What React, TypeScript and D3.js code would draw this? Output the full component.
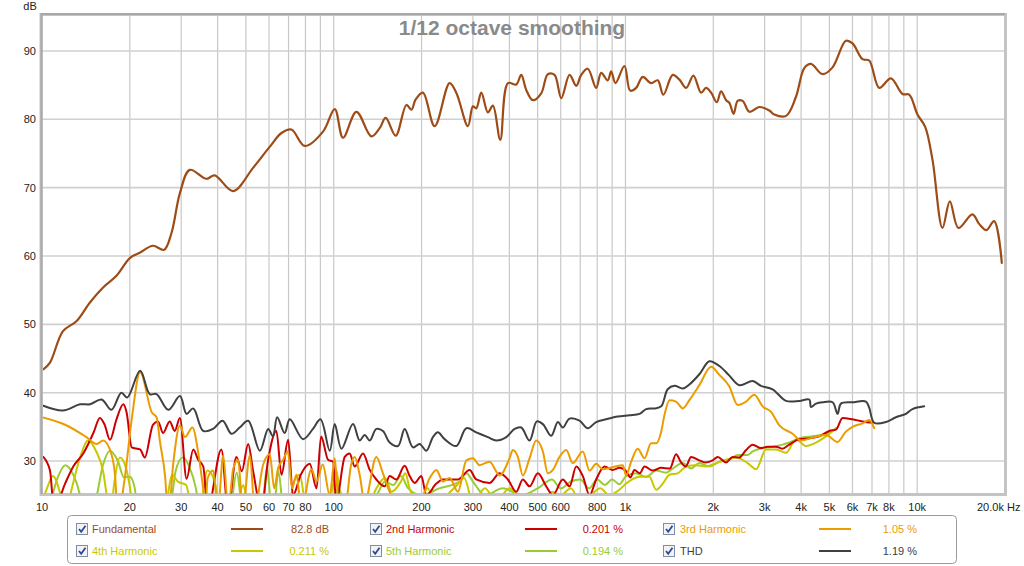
import * as d3 from "d3";

// [Hz, dB]
const fundamental: [number, number][] = [
  [10.1, 43.4], [10.65, 44.4], [11.8, 49.0], [13.15, 50.5], [14.6, 53.2], [16.2, 55.4], [18.0, 57.1],
  [20.0, 59.7], [21.7, 60.5], [24.0, 61.5], [26.2, 60.9], [27.8, 63.4], [29.7, 69.2], [32.1, 72.6],
  [36.6, 71.3], [39.1, 71.8], [45.2, 69.5], [52.9, 72.9], [60.4, 76.0], [66.2, 78.0], [71.6, 78.5],
  [79.6, 76.1], [91.9, 78.2], [100.8, 81.5], [107.6, 77.3], [119.6, 81.1], [134.6, 77.5], [143.7, 78.7],
  [150.7, 80.2], [163.1, 77.6], [177.4, 82.1], [184.6, 81.4], [190.9, 82.9], [202.2, 83.9], [221.8, 79.0],
  [249.6, 85.3], [263.1, 83.9], [288.4, 79.0], [300, 81.9], [308, 81.6], [320.5, 83.9], [337.6, 81.0],
  [351.3, 82.0], [372.3, 77.0], [395.4, 85.3], [422.3, 85.1], [439.3, 86.5], [457, 84.3], [481.4, 82.8],
  [514.3, 83.8], [541.8, 86.6], [571.3, 86.5], [602.4, 83.1], [643.2, 86.5], [678.1, 84.9], [705.2, 86.5],
  [742.9, 87.4], [793.6, 84.6], [825.6, 86.8], [869.6, 85.7], [893.3, 87.0], [924.3, 85.3], [992, 87.8],
  [1038, 84.2], [1088, 84.6], [1146, 86.2], [1224, 85.3], [1290, 85.7], [1349, 83.6], [1452, 86.5],
  [1531, 85.8], [1614, 84.6], [1710, 86.4], [1816, 83.9], [1889, 84.6], [1966, 83.9], [2055, 82.5],
  [2127, 84.1], [2213, 82.8], [2271, 82.4], [2349, 80.8], [2424, 82.7], [2522, 82.7], [2659, 81.1],
  [2876, 81.8], [3113, 81.3], [3238, 80.7], [3551, 80.5], [3842, 83.3], [4102, 87.5], [4325, 88.1],
  [4739, 86.6], [5128, 87.6], [5697, 91.5], [6003, 91.1], [6497, 88.8], [6848, 88.6], [7413, 84.6],
  [8128, 86.0], [8906, 83.7], [9389, 83.6], [10023, 80.7], [10652, 78.9], [11283, 74.1], [12209, 64.1],
  [12942, 68.0], [13849, 64.1], [15464, 66.1], [16305, 64.7], [17273, 63.8], [18350, 65.1], [19500, 59.0],
];

const harmonic2: [number, number][] = [
  [10.1, 30.6], [10.65, 28.6], [11.0, 23], [12.0, 26.7], [12.8, 29.2], [13.85, 31.1], [15.0, 34.1],
  [15.8, 36.3], [16.4, 35.3], [17.1, 33.1], [18.0, 36.1], [19.0, 38.3], [19.5, 37.1], [20.3, 32.0],
  [21.7, 31.7], [22.5, 30.5], [24.0, 35.3], [25.0, 35.8], [26.0, 34.1], [27.4, 35.8], [28.5, 34.4],
  [29.7, 36.3], [31.3, 27.4], [33.0, 31.7], [34.3, 30.2], [35.7, 29.2], [37.0, 23], [41.2, 31.7],
  [43.4, 23], [46.4, 30.6], [48.4, 28.5], [50.9, 32.5], [52.9, 28.6], [56.5, 23], [59.6, 30.2],
  [63.6, 34.4], [66.2, 28], [69.8, 33.1], [72.5, 25], [77.1, 28], [82.8, 29.6], [87.3, 26], [90.5, 33.6],
  [95.6, 30.2], [99.5, 29.9], [101.9, 24], [109.1, 30.6], [113.4, 31.1], [118, 29.2], [126, 31.1],
  [132.9, 28.7], [140, 27.3], [149.5, 26.3], [155.5, 27.8], [163.9, 27.3], [175.1, 29.3], [182.1, 27.8],
  [189.4, 26.8], [199.7, 27.8], [207.7, 25], [224.8, 26.7], [236.8, 27.3], [249.6, 27.3], [266.5, 27.3],
  [292.3, 28.7], [308, 27.3], [342.1, 26.8], [370.3, 28.2], [395.4, 27.3], [422.3, 25.5], [444.9, 27.3],
  [469, 26.3], [500.9, 28.2], [535.1, 26.3], [563.7, 25], [610.1, 27.3], [643.2, 26.3], [678.1, 29.2],
  [714.3, 27.8], [752.9, 25], [793.6, 27.3], [847.5, 29.2], [904.5, 28.7], [953.9, 29], [1005, 28.5],
  [1040, 27.6], [1073, 28.7], [1120, 28.2], [1162, 29.2], [1240, 28.6], [1326, 29.0], [1420, 28.9],
  [1491, 31.0], [1551, 29.8], [1610, 29.2], [1679, 30.6], [1792, 30.1], [1880, 29.8], [1991, 30.1],
  [2071, 30.6], [2213, 29.8], [2331, 30.6], [2450, 30.5], [2591, 31.6], [2729, 32.4], [2915, 31.9],
  [3071, 32.1], [3281, 32.1], [3450, 31.8], [3644, 32.4], [3944, 33.2], [4210, 33.3], [4617, 33.6],
  [4995, 34.4], [5268, 34.6], [5550, 36.3], [6003, 36.1], [6497, 35.8], [7030, 35.6],
];

const harmonic3: [number, number][] = [
  [10.0, 36.4], [12.15, 35.2], [14.2, 33.5], [15.4, 32.5], [16.2, 33.0], [17.3, 31.0], [17.8, 27.9],
  [18.2, 22], [19.2, 27.4], [20.3, 36.1], [21.7, 43.0], [23.8, 37.1], [24.7, 36.4], [25.4, 32.7],
  [26.4, 27.9], [27.1, 22], [28.2, 29.8], [29.7, 35.2], [30.9, 33.5], [32.8, 34.9], [34.3, 31.3],
  [35.7, 25.9], [36.4, 23], [36.9, 27.4], [38.6, 28.6], [40.1, 23], [41.8, 30.8], [43.5, 23], [45.2, 28.8],
  [47.0, 30.2], [48.8, 23], [51.6, 30.8], [53.6, 23], [57.3, 29.5], [60.4, 31], [62.5, 26], [64.5, 29],
  [67.1, 30.2], [69.6, 31.4], [72, 26], [74.5, 28], [77.5, 23], [83.9, 28.8], [87.3, 27], [91.7, 29.5],
  [96.9, 25], [100.8, 30.4], [103.4, 25], [109.1, 23], [114.9, 29.6], [118, 30.6], [122.7, 28], [127.7, 24],
  [140, 30.6], [147.5, 28.2], [155.5, 25.5], [163.9, 24], [182.1, 25], [197, 24], [213.3, 27.5],
  [224.8, 28.7], [236.8, 27], [249.6, 27.5], [266.5, 25.5], [284.8, 30.1], [300, 30.4], [316.2, 29.4],
  [342.1, 29.9], [370.3, 27.9], [400.6, 30.4], [411.2, 31.6], [427.7, 30.6], [444.9, 27.9], [469, 30.4],
  [494.5, 33.0], [521.1, 31.4], [541.8, 28.2], [563.7, 28.7], [594.3, 30.6], [626.5, 31.6], [660, 29.7],
  [714.3, 31.4], [752.9, 28.6], [793.6, 29.6], [834.2, 28.8], [904.5, 29.1], [979, 29.4], [1005, 27.9],
  [1046, 29.9], [1102, 31.8], [1162, 30.4], [1224, 32.6], [1274, 32.6], [1326, 34.3], [1360, 36.7],
  [1415, 38.9], [1491, 38.7], [1572, 37.7], [1656, 38.9], [1792, 41.1], [1966, 43.8], [2099, 42.6],
  [2271, 40.9], [2424, 38.2], [2591, 38.7], [2765, 39.7], [2953, 38.0], [3155, 37.2], [3369, 35.2],
  [3741, 34.0], [3998, 33.0], [4440, 33.5], [4868, 33.8], [5335, 32.8], [5697, 34.3], [6003, 35.0],
  [6497, 35.5], [6848, 36.0], [7124, 34.8],
];

const harmonic4: [number, number][] = [
  [10.0, 24], [10.4, 26], [10.9, 27.8], [11.5, 25.5], [12.0, 22], [12.66, 26], [13.5, 30.5], [14.4, 33.0],
  [15.3, 31.5], [16.2, 28.5], [16.8, 24], [17.2, 22], [17.6, 26], [18.5, 30.5], [19.4, 29], [20.2, 25],
  [20.6, 22], [26.4, 23], [27.9, 28], [29.2, 27], [31.2, 26.5], [32.6, 23], [34.7, 23], [36.9, 28.6],
  [39.1, 27], [40.7, 23], [46, 23], [49, 26.5], [51, 23], [70, 23], [73, 27], [76.5, 28], [80, 24],
  [95, 23], [99, 26], [102, 28.7], [106, 24], [115, 22], [130, 23], [140, 26], [150, 27.5], [158, 25.5],
  [170, 27], [176, 28.2], [182, 26], [195, 24], [210, 26], [225, 23], [245, 25], [265, 26.5], [280, 27.5],
  [300, 24], [330, 26], [360, 24], [400, 26], [440, 24.5], [480, 25], [520, 24], [560, 25.5], [600, 25],
  [650, 26], [700, 24], [760, 25], [820, 26], [880, 25], [953, 25.8], [1005, 26.7], [1117, 27.7],
  [1208, 27.7], [1274, 25.8], [1342, 26.7], [1415, 28.0], [1511, 28.2], [1614, 29.2], [1747, 29.4],
  [1889, 29.2], [2045, 29.7], [2213, 30.2], [2394, 30.5], [2623, 29.7], [2803, 28.8], [3033, 31.7],
  [3281, 31.7], [3551, 31.2], [3842, 33.2], [4156, 32.2], [4499, 32.7], [4868, 33.6], [5268, 34.8],
];

const harmonic5: [number, number][] = [
  [10.0, 22], [10.5, 23], [11.3, 27.5], [12.0, 29.4], [12.8, 28], [13.5, 25], [13.9, 22], [15.2, 24],
  [16.2, 29.5], [17.1, 31.5], [18.2, 30], [19.1, 27.6], [20.0, 27.7], [20.8, 26], [21.3, 22], [27.4, 23],
  [28.7, 28.5], [30.4, 30.5], [32.1, 29], [33.7, 26], [34.7, 23], [44, 23], [46.5, 28.3], [48.8, 23],
  [56.8, 23], [59, 29], [61.4, 23], [62.8, 24], [64.6, 28.5], [67.3, 23], [95, 22], [99, 24], [104, 26],
  [110, 23], [140, 25], [150, 27], [160, 26.5], [170, 27.8], [180, 26], [200, 25], [230, 26], [270, 27],
  [285, 28.2], [300, 27], [330, 25], [380, 26], [440, 25], [500, 26], [560, 27.3], [600, 26], [650, 27],
  [700, 27.3], [750, 26], [800, 27.3], [850, 26.5], [900, 27.3], [953.9, 26.6], [1005, 27.8], [1088, 28.2],
  [1177, 27.7], [1274, 28.6], [1379, 28.3], [1452, 28.9], [1572, 29.7], [1679, 28.9], [1792, 29.7],
  [1940, 29.2], [2099, 29.9], [2271, 30.2], [2424, 30.9], [2623, 30.9], [2729, 31.4], [2953, 31.9],
  [3194, 32.1], [3457, 32.4], [3741, 32.9], [3998, 33.4], [4325, 33.6], [4680, 33.8], [5064, 34.3],
  [5268, 34.8],
];

const thd: [number, number][] = [
  [10.1, 38.1], [11.8, 37.4], [13.5, 38.3], [14.6, 38.3], [16.0, 39.0], [17.3, 37.5], [18.7, 40.0],
  [19.6, 39.3], [21.7, 43.2], [23.4, 39.8], [24.7, 39.8], [27.1, 37.5], [29.7, 39.5], [31.3, 36.9],
  [33.0, 37.7], [35.7, 34.4], [38.6, 34.7], [41.6, 35.9], [44.6, 34.0], [47.6, 34.9], [50.9, 35.9],
  [55.8, 31.5], [59.6, 34.7], [61.9, 33.6], [64.0, 36.4], [67.9, 34.1], [70.7, 36.1], [78.5, 33.2],
  [84.9, 34.7], [90.1, 36.1], [96.9, 31.5], [100.8, 35.4], [106.3, 31.8], [116.4, 35.4], [122.7, 33.0],
  [127.7, 33.8], [132.9, 33.0], [140, 34.7], [147.5, 34.4], [155.5, 32.7], [166.1, 32.2], [175.1, 34.7],
  [186.9, 32.0], [197, 32.5], [207.7, 31.5], [218.8, 33.5], [227.6, 34.2], [240, 33.2], [263.1, 32.2],
  [284.8, 34.8], [308, 34.2], [337.6, 33.5], [360.7, 33.0], [390.4, 33.5], [416.8, 34.7], [439.3, 34.9],
  [469, 33.0], [496.8, 35.8], [521.1, 35.4], [556.6, 33.7], [586.6, 35.7], [610.1, 34.9], [643.2, 36.2],
  [695.9, 35.9], [742.9, 34.8], [793.6, 35.7], [858.6, 36.1], [941, 36.5], [1032, 36.7], [1117, 36.9],
  [1177, 37.6], [1257, 37.7], [1326, 38.0], [1396, 40.5], [1472, 41.0], [1572, 40.6], [1656, 41.2],
  [1792, 42.7], [1940, 44.6], [2099, 43.9], [2271, 42.5], [2457, 41.1], [2729, 41.7], [2915, 41.0],
  [3194, 40.5], [3551, 38.8], [3944, 38.8], [4267, 39.0], [4325, 37.9], [4500, 38.4], [4739, 38.6],
  [5128, 38.6], [5335, 36.9], [5479, 38.4], [6003, 38.6], [6673, 38.7], [6848, 37.8], [7124, 35.6],
  [7813, 35.7], [8456, 36.4], [9148, 36.9], [9637, 37.6], [10568, 38.0],
];

const xTickLabels: [number, string][] = [
  [10, "10"], [20, "20"], [30, "30"], [40, "40"], [50, "50"], [60, "60"], [70, "70"], [80, "80"],
  [100, "100"], [200, "200"], [300, "300"], [400, "400"], [500, "500"], [600, "600"], [800, "800"],
  [1000, "1k"], [2000, "2k"], [3000, "3k"], [4000, "4k"], [5000, "5k"], [6000, "6k"], [7000, "7k"],
  [8000, "8k"], [10000, "10k"],
];
const yTicks = [30, 40, 50, 60, 70, 80, 90];

const series = [
  { name: "Fundamental", data: fundamental, color: "#9e4c17", value: "82.8 dB", width: 2.2 },
  { name: "2nd Harmonic", data: harmonic2, color: "#cc0000", value: "0.201 %", width: 2 },
  { name: "3rd Harmonic", data: harmonic3, color: "#eb9c00", value: "1.05 %", width: 2 },
  { name: "4th Harmonic", data: harmonic4, color: "#c8c800", value: "0.211 %", width: 2 },
  { name: "5th Harmonic", data: harmonic5, color: "#99cc33", value: "0.194 %", width: 2 },
  { name: "THD", data: thd, color: "#404040", value: "1.19 %", width: 2 },
];
// draw order: distortion behind THD, fundamental on top
const drawOrder = ["5th Harmonic", "4th Harmonic", "2nd Harmonic", "3rd Harmonic", "THD", "Fundamental"];

const W = 1024;
const H = 566;
const plot = { left: 42, right: 1005, top: 16.8, bottom: 495.2 };
const FONT = "'Liberation Sans', Arial, sans-serif";

export default function App() {
  const x = d3.scaleLog().domain([10, 20000]).range([plot.left, plot.right]);
  const y = d3.scaleLinear().domain([25, 95]).range([plot.bottom, plot.top]);

  const gridFreqs: number[] = [];
  [10, 100, 1000, 10000].forEach(dec => {
    for (let m = 1; m <= 9; m++) if (m * dec <= 20000) gridFreqs.push(m * dec);
  });

  const lineSmooth = d3.line<[number, number]>()
    .x(d => x(d[0]))
    .y(d => y(d[1]))
    .curve(d3.curveCatmullRom.alpha(0.5));
  const lineLobes = d3.line<[number, number]>()
    .x(d => x(d[0]))
    .y(d => y(d[1]))
    .curve(d3.curveMonotoneX);

  // legend layout
  const legendCols = [
    { cb: 76, label: 92, l1: 231, l2: 263, val: 329 },
    { cb: 370, label: 386, l1: 525, l2: 557, val: 623 },
    { cb: 663, label: 680, l1: 819, l2: 851, val: 917 },
  ];
  const legendRows = [529, 551];

  return (
    <svg width={W} height={H} style={{ position: "absolute", left: 0, top: 0, background: "#fff" }}
      fontFamily={FONT}>
      <defs>
        <clipPath id="plotClip">
          <rect x={plot.left + 1} y={15.5} width={plot.right - plot.left - 2} height={478} />
        </clipPath>
      </defs>

      {/* grid */}
      {gridFreqs.map(f => (
        <line key={"gx" + f} x1={x(f)} x2={x(f)} y1={15} y2={494} stroke="#c8c8c8" strokeWidth={1.2} />
      ))}
      {yTicks.map(t => (
        <line key={"gy" + t} x1={plot.left} x2={plot.right} y1={y(t)} y2={y(t)} stroke="#d0d0d0" strokeWidth={1.6} />
      ))}

      {/* frame */}
      <rect x={41} y={14.5} width={964.5} height={480} fill="none" stroke="#c4c4c4" strokeWidth={3} />
      <path d="M41.5,494 V14 H1005" fill="none" stroke="#a8a8a8" strokeWidth={2} />

      {/* traces */}
      <g clipPath="url(#plotClip)">
        {drawOrder.map(n => {
          const s = series.find(d => d.name === n)!;
          const gen = n === "Fundamental" || n === "THD" ? lineSmooth : lineLobes;
          return (
            <path key={n} d={gen(s.data) ?? ""} fill="none" stroke={s.color} strokeWidth={s.width}
              strokeLinejoin="round" strokeLinecap="round" />
          );
        })}
      </g>

      {/* title */}
      <text x={512} y={35} textAnchor="middle" fontSize={21} fontWeight="bold" fill="#8a8a8a">
        1/12 octave smoothing
      </text>

      {/* y axis */}
      <text x={30} y={10} textAnchor="middle" fontSize={11} fill="#222">dB</text>
      {yTicks.map(t => (
        <text key={"yt" + t} x={36} y={y(t) + 4} textAnchor="end" fontSize={11} fill="#222">{t}</text>
      ))}

      {/* x axis */}
      {xTickLabels.map(([f, s]) => (
        <text key={"xt" + f} x={x(f)} y={511} textAnchor="middle" fontSize={11} fill="#222">{s}</text>
      ))}
      <text x={977} y={511} fontSize={11} fill="#222">20.0k Hz</text>

      {/* legend */}
      <rect x={67.5} y={515.5} width={889} height={48} rx={4} fill="#fff" stroke="#999" strokeWidth={1} />
      {series.map((s, i) => {
        const col = legendCols[i % 3];
        const ry = legendRows[Math.floor(i / 3)];
        return (
          <g key={"lg" + s.name}>
            <rect x={col.cb + 0.5} y={ry - 5.5} width={11} height={11} fill="#f3f3f3" stroke="#7f8ea4" strokeWidth={1} />
            <path d={`M${col.cb + 3},${ry} L${col.cb + 5.2},${ry + 2.8} L${col.cb + 9.5},${ry - 3.2}`}
              fill="none" stroke="#2b4a9a" strokeWidth={1.8} />
            <text x={col.label} y={ry + 4} fontSize={11} fill={s.color}>{s.name}</text>
            <line x1={col.l1} x2={col.l2} y1={ry} y2={ry} stroke={s.color} strokeWidth={2} />
            <text x={col.val} y={ry + 4} textAnchor="end" fontSize={11} fill={s.color}>{s.value}</text>
          </g>
        );
      })}
    </svg>
  );
}
